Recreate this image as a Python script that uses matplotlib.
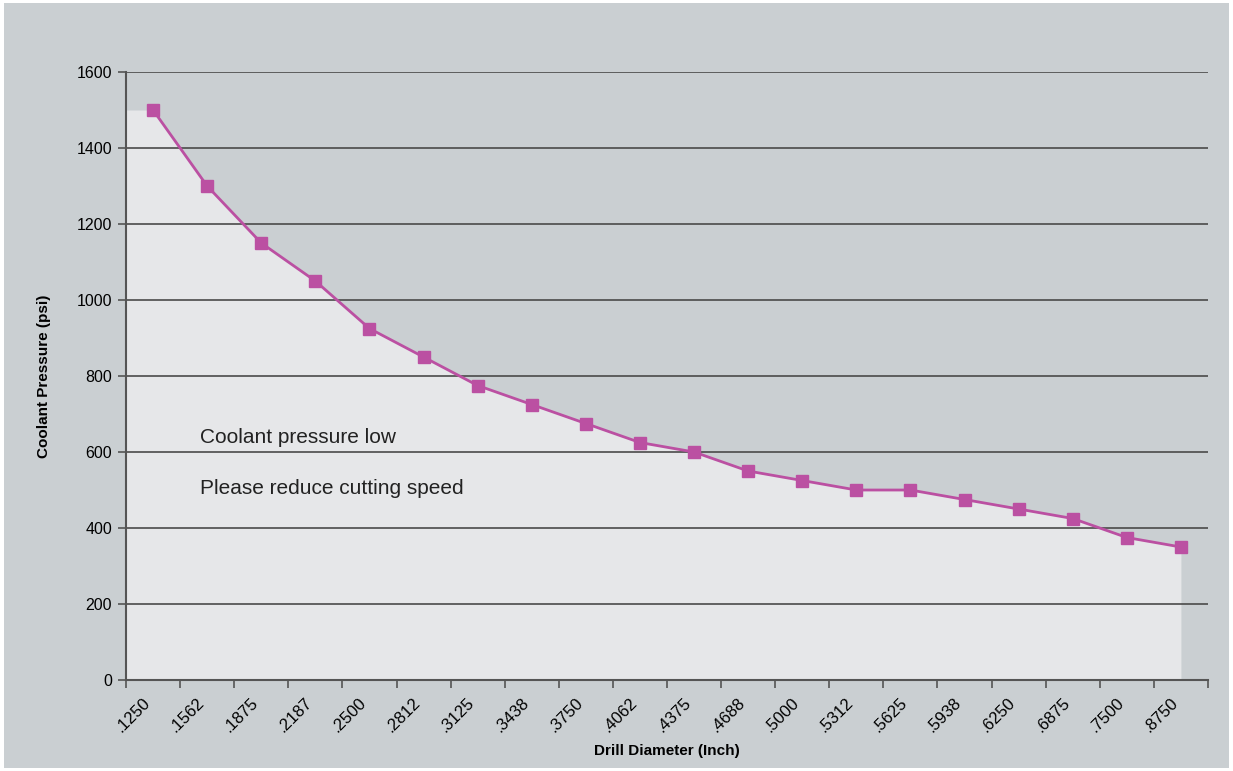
import matplotlib
matplotlib.use("Agg")
import matplotlib.pyplot as plt
import numpy as np

plt.rcParams['font.family'] = ['Liberation Sans', 'DejaVu Sans']

diameters = [".1250", ".1562", ".1875", ".2187", ".2500", ".2812", ".3125", ".3438",
             ".3750", ".4062", ".4375", ".4688", ".5000", ".5312", ".5625", ".5938",
             ".6250", ".6875", ".7500", ".8750"]
pressure = [1500, 1300, 1150, 1050, 925, 850, 775, 725, 675, 625,
            600, 550, 525, 500, 500, 475, 450, 425, 375, 350]

bg = "#cacfd2"
fill_col = "#e6e7e9"
line_col = "#bb50a2"

fig = plt.figure(figsize=(12.33, 7.71), dpi=100, facecolor="white")
fig.patches.append(plt.Rectangle((0.003, 0.004), 0.994, 0.992, transform=fig.transFigure,
                                 facecolor=bg, edgecolor="none", zorder=-10))
ax = fig.add_axes([0.1022, 0.118, 0.8775, 0.7886])
ax.set_facecolor(bg)

n = len(pressure)
xc = np.arange(n) + 0.5
# area under the curve, flat to the left edge, dropping at the last point
fx = np.concatenate([[0], xc])
fy = np.concatenate([[pressure[0]], pressure])
ax.fill_between(fx, 0, fy, color=fill_col, lw=0, zorder=1)

ax.plot(xc, pressure, color=line_col, lw=2, marker="s", ms=8.5,
        markerfacecolor=line_col, markeredgecolor=line_col, zorder=4)

ax.set_xlim(0, n)
ax.set_ylim(0, 1600)
ax.set_yticks(range(0, 1601, 200))
ax.yaxis.grid(True, color="#4a4a4a", lw=1.2, zorder=2)
ax.set_axisbelow(False)
for l in ax.get_ygridlines():
    l.set_zorder(2)

ax.set_xticks(np.arange(n + 1))
ax.set_xticklabels([])
ax.set_xticks(np.arange(n) + 0.3, minor=True)
ax.set_xticklabels(diameters, minor=True, rotation=45, ha="right", va="top",
                   rotation_mode="anchor", fontsize=12)
ax.tick_params(axis="x", which="minor", length=0, pad=11)
ax.tick_params(axis="x", which="major", length=6, color="#555555", width=1.2)
ax.tick_params(axis="y", length=6, color="#555555", width=1.2, labelsize=11.5, pad=4)

for s in ["top", "right"]:
    ax.spines[s].set_visible(False)
for s in ["left", "bottom"]:
    ax.spines[s].set_color("#555555")
    ax.spines[s].set_linewidth(1.5)
    ax.spines[s].set_zorder(5)

ax.set_ylabel("Coolant Pressure (psi)", fontsize=11, fontweight="bold", labelpad=18)
ax.set_xlabel("Drill Diameter (Inch)", fontsize=11, fontweight="bold", labelpad=6)

ax.text(1.37, 637, "Coolant pressure low", fontsize=15, va="center", color="#222222", zorder=6)
ax.text(1.37, 503, "Please reduce cutting speed", fontsize=15, va="center", color="#222222", zorder=6)

fig.savefig("out.png", dpi=100, facecolor="white")
